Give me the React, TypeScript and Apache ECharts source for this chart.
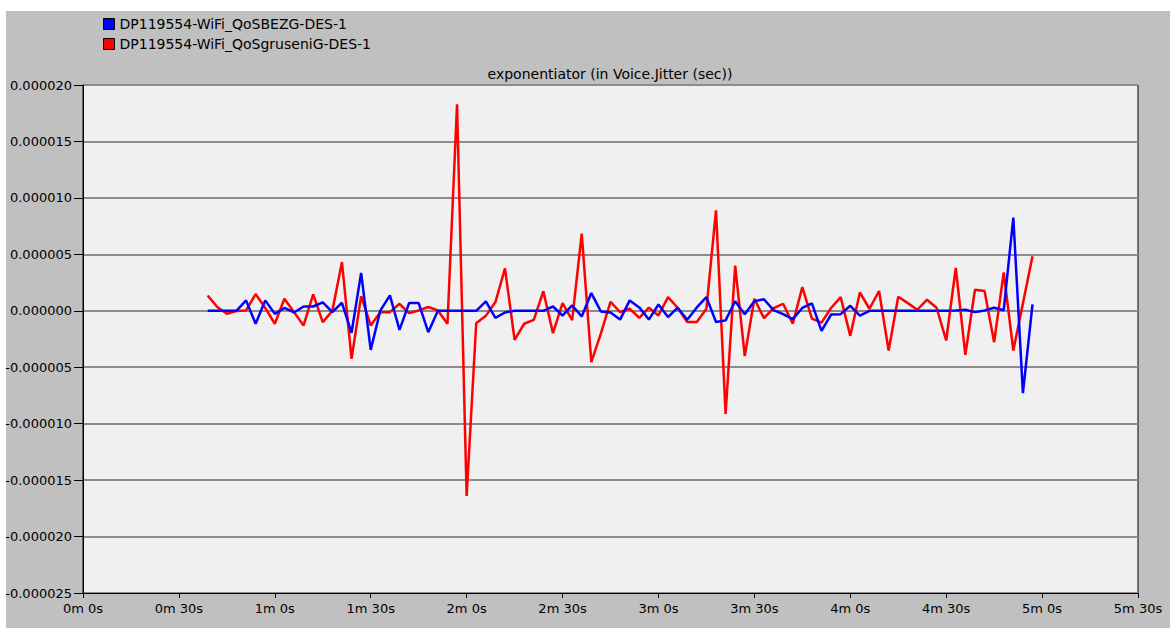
import React, { useEffect, useRef } from "react";
import * as echarts from "echarts";

// Sample times (seconds)
const times = [
  39, 42, 45, 48, 51, 54, 57, 60, 63, 66, 69, 72, 75, 78, 81, 84, 87, 90, 93, 96,
  99, 102, 105, 108, 111, 114, 117, 120, 123, 126, 129, 132, 135, 138, 141, 144, 147, 150, 153, 156,
  159, 162, 165, 168, 171, 174, 177, 180, 183, 186, 189, 192, 195, 198, 201, 204, 207, 210, 213, 216,
  219, 222, 225, 228, 231, 234, 237, 240, 243, 246, 249, 252, 255, 258, 261, 264, 267, 270, 273, 276,
  279, 282, 285, 288, 291, 294, 297,
];

// Jitter values in microseconds (1e-6 sec)
const blueJitter = [
  0, 0, 0, 0, 0.92, -1.15, 0.92, -0.27, 0.25, -0.15, 0.38, 0.38, 0.75, -0.12, 0.71, -1.95, 3.36, -3.46, 0.02, 1.36,
  -1.69, 0.68, 0.68, -1.9, 0, 0, 0, 0, 0, 0.83, -0.63, -0.15, 0, 0, 0, 0, 0.38, -0.42, 0.47, -0.5,
  1.57, -0.06, -0.15, -0.78, 0.92, 0.3, -0.78, 0.56, -0.56, 0.27, -0.8, 0.3, 1.21, -1.0, -0.85, 0.84, -0.3, 0.84, 1.02, 0.06,
  -0.3, -0.74, 0.25, 0.66, -1.78, -0.34, -0.3, 0.44, -0.42, 0, 0, 0, 0, 0, 0, 0, 0, 0, 0.03, 0.09,
  -0.12, 0.03, 0.27, 0.05, 8.25, -7.3, 0.56,
];

const redJitter = [
  1.36, 0.33, -0.27, -0.03, 0.03, 1.48, 0.25, -1.15, 1.07, -0.12, -1.3, 1.45, -1.0, 0.0, 4.32, -4.26, 1.3, -1.3, -0.12, -0.12,
  0.62, -0.21, 0.03, 0.33, 0.03, -1.15, 18.3, -16.4, -1.1, -0.45, 0.77, 3.75, -2.57, -1.15, -0.8, 1.73, -1.98, 0.68, -0.83, 6.83,
  -4.55, -2.0, 0.8, -0.12, 0.18, -0.62, 0.27, -0.41, 1.21, 0.27, -1.0, -1.0, 0.18, 8.9, -9.13, 4.0, -4.02, 1.07, -0.65, 0.24,
  0.62, -1.15, 2.1, -0.7, -1.05, 0.25, 1.21, -2.22, 1.62, 0.18, 1.75, -3.52, 1.24, 0.68, 0.09, 0.98, 0.27, -2.63, 3.79, -3.9,
  1.86, 1.75, -2.78, 3.4, -3.52, 0.65, 4.82,
];

const blueName = "DP119554-WiFi_QoSBEZG-DES-1";
const redName = "DP119554-WiFi_QoSgruseniG-DES-1";
const chartTitle = "exponentiator (in Voice.Jitter (sec))";

const FONT = "DejaVu Sans";

export default function App() {
  const ref = useRef<HTMLDivElement>(null);

  useEffect(() => {
    if (!ref.current) return;
    const chart = echarts.init(ref.current, undefined, { renderer: "svg" });
    const blueData = times.map((t, i) => [t, blueJitter[i]]);
    const redData = times.map((t, i) => [t, redJitter[i]]);

    chart.setOption({
      animation: false,
      backgroundColor: "#c0c0c0",
      textStyle: { fontFamily: FONT },
      grid: {
        left: 83,
        right: 32,
        top: 85,
        bottom: 37,
        show: true,
        backgroundColor: "#f0f0f0",
        borderColor: "#000",
        borderWidth: 1,
      },
      legend: {
        orient: "vertical",
        left: 103,
        top: 17,
        padding: 0,
        icon: "rect",
        itemWidth: 11,
        itemHeight: 11,
        itemGap: 6,
        selectedMode: false,
        itemStyle: { borderColor: "#000", borderWidth: 1 },
        textStyle: { fontSize: 14, color: "#000", lineHeight: 14, fontFamily: FONT },
        data: [blueName, redName],
      },
      xAxis: {
        type: "value",
        min: 0,
        max: 330,
        interval: 30,
        axisLine: { show: true, onZero: false, lineStyle: { color: "#000", width: 1 } },
        axisTick: { show: true, length: 5, lineStyle: { color: "#000" } },
        axisLabel: {
          color: "#000",
          fontSize: 13,
          fontFamily: FONT,
          margin: 9,
          showMinLabel: true,
          showMaxLabel: true,
          formatter: (v: number) => `${Math.floor(v / 60)}m ${Math.round(v % 60)}s`,
        },
        splitLine: { show: false },
      },
      yAxis: {
        type: "value",
        min: -25,
        max: 20,
        interval: 5,
        axisLine: { show: true, onZero: false, lineStyle: { color: "#000", width: 1 } },
        axisTick: { show: true, length: 9, lineStyle: { color: "#000" } },
        axisLabel: {
          color: "#000",
          fontSize: 13,
          fontFamily: FONT,
          margin: 11,
          formatter: (v: number) => (v / 1e6).toFixed(6),
        },
        splitLine: { show: true, lineStyle: { color: "#8c8c8c", width: 2 } },
      },
      graphic: [
        { type: "rect", shape: { x: 0, y: 0, width: 1170, height: 11 }, style: { fill: "#ffffff" }, silent: true },
        { type: "rect", shape: { x: 0, y: 0, width: 6, height: 630 }, style: { fill: "#ffffff" }, silent: true },
        { type: "rect", shape: { x: 0, y: 628, width: 1170, height: 2 }, style: { fill: "#ffffff" }, silent: true },
        {
          type: "text",
          x: 610,
          y: 74,
          style: {
            text: chartTitle,
            align: "center",
            verticalAlign: "middle",
            font: `14px "${FONT}"`,
            fill: "#000",
          },
          silent: true,
        },
      ],
      series: [
        {
          name: redName,
          type: "line",
          data: redData,
          symbol: "none",
          z: 3,
          color: "#ff0000",
          lineStyle: { color: "#ff0000", width: 2.5 },
          itemStyle: { color: "#ff0000" },
        },
        {
          name: blueName,
          type: "line",
          data: blueData,
          symbol: "none",
          z: 4,
          color: "#0000ff",
          lineStyle: { color: "#0000ff", width: 2.5 },
          itemStyle: { color: "#0000ff" },
        },
      ],
    });

    return () => {
      chart.dispose();
    };
  }, []);

  return (
    <div
      ref={ref}
      style={{ position: "absolute", left: 0, top: 0, width: 1170, height: 630 }}
    />
  );
}
